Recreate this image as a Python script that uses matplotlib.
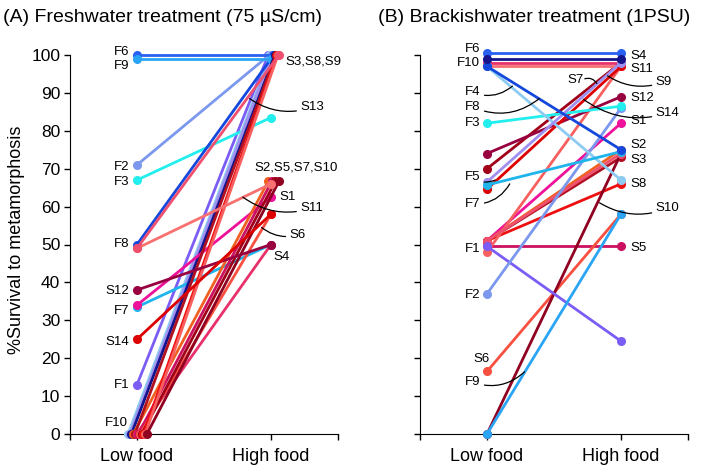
import numpy as np
import matplotlib.pyplot as plt

plt.rcParams['font.family'] = ['Liberation Sans', 'DejaVu Sans']

# families and colours
families = ['F1', 'F2', 'F3', 'F4', 'F5', 'F6', 'F7', 'F8', 'F9', 'F10',
            'S1', 'S2', 'S3', 'S4', 'S5', 'S6', 'S7', 'S8', 'S9', 'S10',
            'S11', 'S12', 'S13', 'S14']
colors = ['#7b5cf5', '#7b98ee', '#22eeee', '#8ecbf2', '#9f8ff0', '#2860f0',
          '#1fb5ec', '#1448dc', '#2aa5f5', '#14148c',
          '#ee1199', '#f06020', '#b01020', '#e8306a', '#cc1060', '#f85040',
          '#a00018', '#ee1010', '#f86060', '#900020',
          '#f87070', '#990040', '#f05070', '#dd0000']

# (A) freshwater: % survival, low food / high food
fresh_low = [13, 71, 67, 0, 0, 100, 33.5, 50, 99, 0,
             34, 0, 0, 0, 0, 0, 0, 0, 0, 0,
             49, 38, 49, 25]
fresh_high = [100, 100, 83.5, 100, 100, 100, 50, 100, 99, 100,
              62.5, 66.7, 100, 50, 66.7, 58, 66.7, 100, 100, 66.7,
              66, 50, 100, 58]

# (B) brackishwater
brack_low = [49.5, 37, 82, 97, 66.5, 100.4, 65.7, 97, 0, 99,
             51, 51, 51, 98, 49.5, 16.5, 70, 51, 48, 0,
             97, 74, 51, 64.6]
brack_high = [24.5, 86, 86.5, 67, 98, 100.4, 74.5, 75, 58, 99,
              82, 75, 73, 98, 49.5, 58, 98, 66, 97, 74,
              97, 89, 74, 97]

# text labels (data coords) and leader lines
fresh_left = [('F6', 100.9), ('F9', 97.1), ('F2', 70.4), ('F3', 66.5), ('F8', 50.1),
              ('S12', 37.7), ('F7', 32.5), ('S14', 24.3), ('F1', 12.9)]
fresh_right = [('S3,S8,S9', 1.11, 98.4), ('S2,S5,S7,S10', 0.88, 70.4),
               ('S1', 1.06, 62.5), ('S4', 1.02, 46.7)]
fresh_lead = [('S13', (1.22, 86.2), (0.84, 88.5)), ('S11', (1.22, 59.6), (0.79, 62.5)),
              ('S6', (1.14, 52.5), (0.93, 54.5))]

brack_left = [('F6', 101.6), ('F10', 97.8), ('F3', 82), ('F1', 48.8), ('F2', 36.7)]
brack_right = [('S4', 99.8), ('S11', 96.2), ('S12', 88.7), ('S1', 82.6),
               ('S2', 76.2), ('S3', 72.4), ('S8', 66), ('S5', 49)]
brack_lead_left = [('F4', 90.2, (0.19, 91.8)), ('F8', 86.3, (0.39, 88.5)),
                   ('F5', 67.8, (0.06, 67.0)), ('F7', 60.7, (0.17, 66.0)),
                   ('F9', 13.7, (0.28, 16.4))]
brack_lead_right = [('S9', 92.9, (0.90, 94.5)), ('S14', 84.7, (0.72, 88.3)),
                    ('S10', 59.6, (0.84, 61.0))]


def spread(vals, lo, hi):
    vals = np.asarray(vals, dtype=float)
    off = np.zeros(len(vals))
    for v in np.unique(vals):
        idx = np.where(vals == v)[0]
        if len(idx) > 3:
            off[idx] = np.linspace(lo, hi, len(idx))
    return off


def setup(ax, ticklabels):
    ax.set_xlim(-0.5, 1.5)
    ax.set_ylim(0, 100)
    ax.spines['top'].set_visible(False)
    ax.spines['right'].set_visible(False)
    ax.set_xticks([-0.5, 0, 1, 1.5])
    ax.set_xticklabels(['', 'Low food', 'High food', ''], fontsize=13)
    ax.set_yticks(np.arange(0, 101, 10))
    if ticklabels:
        ax.tick_params(axis='y', labelsize=12.5)
    else:
        ax.set_yticklabels([])
    ax.tick_params(length=4, width=1, pad=3)
    ax.tick_params(axis='x', pad=6)


def draw(ax, low, high, jitter, order):
    x0 = np.zeros(len(low))
    x1 = np.ones(len(high))
    if jitter:
        x0 = x0 + spread(low, -0.067, 0.074)
        x1 = x1 + spread(high, -0.02, 0.06)
    for i in order:
        ax.plot([x0[i], x1[i]], [low[i], high[i]], '-o', color=colors[i],
                lw=2.0, ms=5.5, clip_on=False, zorder=3)


fig = plt.figure(figsize=(7.09, 4.68), dpi=100)
ax1 = fig.add_axes([70 / 709, 1 - 434 / 468, 268 / 709, 379 / 468])
ax2 = fig.add_axes([420 / 709, 1 - 434 / 468, 268 / 709, 379 / 468])

setup(ax1, True)
setup(ax2, False)
n = len(families)
draw(ax1, fresh_low, fresh_high, True, range(n))
draw(ax2, brack_low, brack_high, False, list(range(10, n)) + list(range(10)))

fs = 9.5
leader = dict(arrowstyle='-', color='black', lw=0.9, shrinkA=1, shrinkB=0)

# panel A labels
for name, y in fresh_left:
    ax1.text(-0.055, y, name, ha='right', va='center', fontsize=fs)
ax1.text(-0.07, 2.9, 'F10', ha='right', va='center', fontsize=fs)
for name, x, y in fresh_right:
    ax1.text(x, y, name, ha='left', va='center', fontsize=fs)
for name, xy_text, xy in fresh_lead:
    ax1.annotate(name, xy=xy, xytext=xy_text, ha='left', va='center', fontsize=fs,
                 arrowprops=dict(connectionstyle='arc3,rad=-0.25', **leader))

# panel B labels
for name, y in brack_left:
    ax2.text(-0.05, y, name, ha='right', va='center', fontsize=fs)
ax2.text(-0.04, 19.8, 'S6', ha='center', va='center', fontsize=fs)
for name, y, xy in brack_lead_left:
    ax2.annotate(name, xy=xy, xytext=(-0.05, y), ha='right', va='center', fontsize=fs,
                 arrowprops=dict(connectionstyle='arc3,rad=0.3', **leader))
for name, y in brack_right:
    ax2.text(1.07, y, name, ha='left', va='center', fontsize=fs)
ax2.text(0.72, 93.4, 'S7', ha='right', va='center', fontsize=fs)
ax2.annotate('', xy=(0.82, 92.5), xytext=(0.72, 93.6),
             arrowprops=dict(connectionstyle='arc3,rad=-0.4', **leader))
for name, y, xy in brack_lead_right:
    ax2.annotate(name, xy=xy, xytext=(1.26, y), ha='left', va='center', fontsize=fs,
                 arrowprops=dict(connectionstyle='arc3,rad=-0.25', **leader))

fig.text(17 / 709, 1 - 240 / 468, '%Survival to metamorphosis', rotation=90,
         ha='center', va='center', fontsize=13)
fig.text(3 / 709, 1 - 17 / 468, '(A) Freshwater treatment (75 µS/cm)',
         ha='left', va='center', fontsize=14)
fig.text(378 / 709, 1 - 17 / 468, '(B) Brackishwater treatment (1PSU)',
         ha='left', va='center', fontsize=14)

fig.savefig('out.png', dpi=100)
